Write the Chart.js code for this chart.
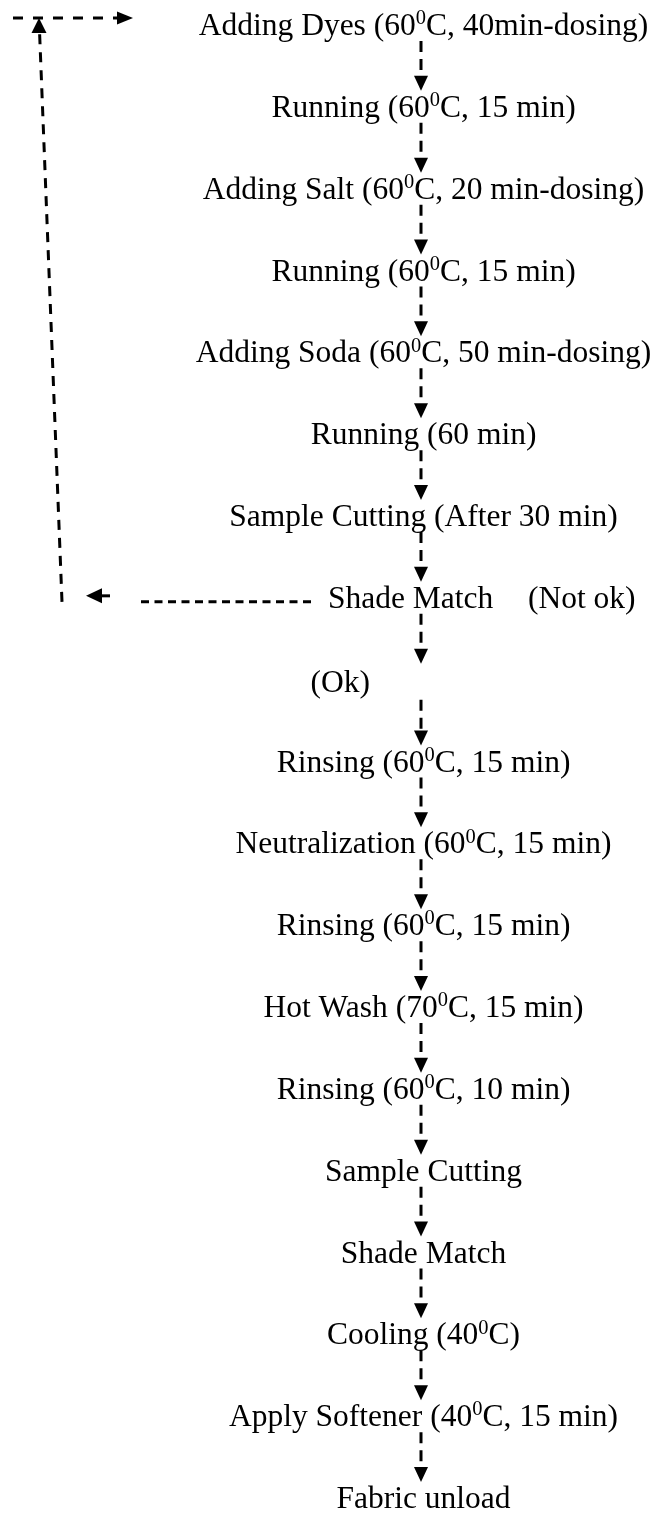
<!DOCTYPE html>
<html>
<head>
<meta charset="utf-8">
<title>Dyeing process flow</title>
<script src="https://cdn.jsdelivr.net/npm/chart.js@4.4.1/dist/chart.umd.min.js"></script>
<style>
  html, body { margin: 0; padding: 0; background: #fff; }
  #wrap { width: 659px; height: 1513px; position: relative; }
</style>
</head>
<body>
<div id="wrap"><canvas id="flow"></canvas></div>
<script>
// Process steps, top to bottom. The ⁰ sign is drawn as a raised small 0.
const steps = [
    'Adding Dyes (60⁰C, 40min-dosing)',
    'Running (60⁰C, 15 min)',
    'Adding Salt (60⁰C, 20 min-dosing)',
    'Running (60⁰C, 15 min)',
    'Adding Soda (60⁰C, 50 min-dosing)',
    'Running (60 min)',
    'Sample Cutting (After 30 min)',
    'Shade Match',
    '(Ok)',
    'Rinsing (60⁰C, 15 min)',
    'Neutralization (60⁰C, 15 min)',
    'Rinsing (60⁰C, 15 min)',
    'Hot Wash (70⁰C, 15 min)',
    'Rinsing (60⁰C, 10 min)',
    'Sample Cutting',
    'Shade Match',
    'Cooling (40⁰C)',
    'Apply Softener (40⁰C, 15 min)',
    'Fabric unload'
];

// Branch when the first shade check fails: back to the dye dosing step
const loopFromStep = 7;
const loopToStep = 0;
const loopLabel = '(Not ok)';
const okStep = 8;

const FONT_SIZE = 31.5;
const FONT_FAMILY = '"Liberation Serif", "Times New Roman", Times, serif';
const FLOW_X = 421; // x position of the main column (x scale runs 0..659)

// Draw a string, turning each ⁰ into a superscript 0
function drawRich(ctx, text, x, y, align) {
    const baseFont = FONT_SIZE + 'px ' + FONT_FAMILY;
    const supFont = (FONT_SIZE * 0.65) + 'px ' + FONT_FAMILY;
    const segs = [];
    text.split('⁰').forEach((part, k) => {
        if (k > 0) segs.push({ t: '0', sup: true });
        if (part) segs.push({ t: part, sup: false });
    });
    let total = 0;
    segs.forEach(s => {
        ctx.font = s.sup ? supFont : baseFont;
        s.w = ctx.measureText(s.t).width;
        total += s.w;
    });
    let cx = x;
    if (align === 'center') cx = x - total / 2;
    if (align === 'right') cx = x - total;
    ctx.textAlign = 'left';
    ctx.textBaseline = 'alphabetic';
    segs.forEach(s => {
        ctx.font = s.sup ? supFont : baseFont;
        ctx.fillText(s.t, cx, s.sup ? y - FONT_SIZE * 0.34 : y);
        cx += s.w;
    });
}

function dashed(ctx, x1, y1, x2, y2, dash) {
    ctx.save();
    ctx.setLineDash(dash);
    ctx.lineWidth = 3;
    ctx.beginPath();
    ctx.moveTo(x1, y1);
    ctx.lineTo(x2, y2);
    ctx.stroke();
    ctx.restore();
}

// Filled arrow head, tip at (x, y), pointing in direction (dx, dy)
function head(ctx, x, y, dx, dy, len, half) {
    const px = -dy, py = dx;
    ctx.beginPath();
    ctx.moveTo(x, y);
    ctx.lineTo(x - dx * len + px * half, y - dy * len + py * half);
    ctx.lineTo(x - dx * len - px * half, y - dy * len - py * half);
    ctx.closePath();
    ctx.fill();
}

const flowPlugin = {
    id: 'flow',
    afterDatasetsDraw(chart) {
        const ctx = chart.ctx;
        const xs = chart.scales.x;
        const pts = chart.getDatasetMeta(0).data;
        ctx.save();
        ctx.fillStyle = '#000';
        ctx.strokeStyle = '#000';

        // step labels
        pts.forEach((p, i) => {
            const label = steps[i];
            if (i === okStep) {
                drawRich(ctx, label, p.x - 51, p.y + 2, 'right');
            } else if (i === loopFromStep) {
                drawRich(ctx, label, p.x - 93, p.y, 'left');
                drawRich(ctx, loopLabel, p.x + 107, p.y, 'left');
            } else {
                drawRich(ctx, label, p.x + 2.5, p.y, 'center');
            }
        });

        // connectors between consecutive steps
        for (let i = 0; i < pts.length - 1; i++) {
            const a = pts[i], b = pts[i + 1];
            const y0 = a.y + 6 + (i === okStep ? 4 : 0);
            const tip = b.y - 26;
            dashed(ctx, a.x, y0, a.x, tip - 14, [11, 7]);
            head(ctx, a.x, tip, 0, 1, 15, 7);
        }

        // loop back: Shade Match -> left -> up -> Adding Dyes
        const from = pts[loopFromStep], to = pts[loopToStep];
        const yMid = from.y - 6;
        const yTop = to.y - 17;
        dashed(ctx, from.x - 110, yMid, xs.getPixelForValue(141), yMid, [8, 5.5]);
        head(ctx, xs.getPixelForValue(86), yMid - 6, -1, 0, 16, 7.5);
        ctx.lineWidth = 3;
        ctx.beginPath();
        ctx.moveTo(xs.getPixelForValue(100), yMid - 6);
        ctx.lineTo(xs.getPixelForValue(110), yMid - 6);
        ctx.stroke();
        const xBot = xs.getPixelForValue(62), xUp = xs.getPixelForValue(39);
        const k = 15 / (yMid - yTop);
        dashed(ctx, xBot, yMid, xUp + (xBot - xUp) * k, yTop + 15, [10, 8]);
        head(ctx, xUp, yTop, 0, -1, 15, 7.5);
        dashed(ctx, xs.getPixelForValue(13), yTop, xs.getPixelForValue(117), yTop, [10, 10]);
        head(ctx, xs.getPixelForValue(133), yTop, 1, 0, 16, 6.5);
        ctx.restore();
    }
};

new Chart(document.getElementById('flow'), {
    type: 'scatter',
    data: {
        datasets: [{
            data: steps.map((s, i) => ({ x: FLOW_X, y: i })),
            pointRadius: 0,
            pointHoverRadius: 0
        }]
    },
    options: {
        responsive: true,
        maintainAspectRatio: false,
        animation: false,
        events: [],
        layout: { padding: { top: 35, bottom: 5, left: 0, right: 0 } },
        scales: {
            x: { type: 'linear', min: 0, max: 659, display: false },
            y: { type: 'linear', min: 0, max: steps.length - 1, reverse: true, display: false }
        },
        plugins: {
            legend: { display: false },
            tooltip: { enabled: false }
        }
    },
    plugins: [flowPlugin]
});
</script>
</body>
</html>
